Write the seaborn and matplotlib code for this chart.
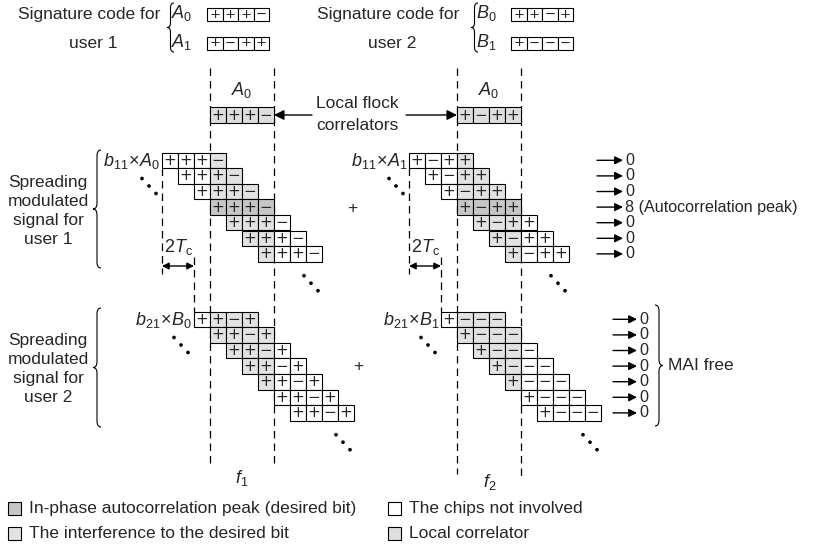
import matplotlib
matplotlib.use("Agg")
import matplotlib.pyplot as plt
from matplotlib.patches import Rectangle, PathPatch
from matplotlib.path import Path
import seaborn as sns
import pandas as pd

# ---------------- data ----------------
sig_A0 = ['+', '+', '+', '\u2212']
sig_A1 = ['+', '\u2212', '+', '+']
sig_B0 = ['+', '+', '\u2212', '+']
sig_B1 = ['+', '\u2212', '\u2212', '\u2212']
local_f1 = ['+', '+', '+', '\u2212']
local_f2 = ['+', '\u2212', '+', '+']
shift_user1 = [-3, -2, -1, 0, 1, 2, 3]
shift_user2 = [-1, 0, 1, 2, 3, 4, 5]
out_user1 = ['0', '0', '0', '8 (Autocorrelation peak)', '0', '0', '0']
out_user2 = ['0', '0', '0', '0', '0', '0', '0']
legend_labels = ['In-phase autocorrelation peak (desired bit)',
                 'The interference to the desired bit',
                 'The chips not involved',
                 'Local correlator']

# ---------------- style ----------------
sns.set_theme(style="white")
plt.rcParams['font.family'] = ['Liberation Sans', 'DejaVu Sans']
plt.rcParams['mathtext.fontset'] = 'custom'
plt.rcParams['mathtext.rm'] = 'Liberation Sans'
plt.rcParams['mathtext.it'] = 'Liberation Sans:italic'
plt.rcParams['mathtext.bf'] = 'Liberation Sans:bold'

DARK = '#c6c6c6'
LIGHT = '#e2e2e2'
LOCAL = '#dedede'
FS = 12.5

fig = plt.figure(figsize=(8.16, 5.44), dpi=100)
ax = fig.add_axes([0, 0, 1, 1])
ax.set_xlim(0, 816)
ax.set_ylim(544, 0)
ax.axis('off')

CW = 16.0
RH = 15.6


def cells(x0, y0, code, colors, cw=CW, rh=RH, fs=10.9):
    for k, s in enumerate(code):
        ax.add_patch(Rectangle((x0 + k * cw, y0), cw, rh, facecolor=colors[k],
                               edgecolor='black', lw=0.8, zorder=3))
        ax.text(x0 + k * cw + cw / 2, y0 + rh / 2, s, ha='center', va='center',
                fontsize=fs, family='DejaVu Sans', zorder=4)


def brace(x, y0, y1, w, tip='left', r=6):
    ym = (y0 + y1) / 2
    if tip == 'left':
        xe, xm, xt = x + w, x + w / 2, x
    else:
        xe, xm, xt = x, x + w / 2, x + w
    verts = [(xe, y0), (xm, y0), (xm, y0 + r), (xm, ym - r), (xm, ym), (xt, ym),
             (xm, ym), (xm, ym + r), (xm, y1 - r), (xm, y1), (xe, y1)]
    codes = [Path.MOVETO, Path.CURVE3, Path.CURVE3, Path.LINETO, Path.CURVE3, Path.CURVE3,
             Path.CURVE3, Path.CURVE3, Path.LINETO, Path.CURVE3, Path.CURVE3]
    ax.add_patch(PathPatch(Path(verts, codes), facecolor='none', edgecolor='black', lw=0.8))


def arrow(x0, y0, x1, y1, style='-|>', ms=13):
    ax.annotate('', xy=(x1, y1), xytext=(x0, y0),
                arrowprops=dict(arrowstyle=style, color='black', lw=1.0,
                                mutation_scale=ms, shrinkA=0, shrinkB=0))


def dashed(x, y0, y1):
    ax.plot([x, x], [y0, y1], color='black', lw=0.9, ls=(0, (6, 4)), zorder=1)


dots = []


def ellipsis(x, y):
    for k in range(3):
        dots.append((x + 7 * k, y + 7.5 * k))


# ---------------- top signature codes ----------------
for cx, bx, name, codes, lbl in [(93, 207, 'user 1', (sig_A0, sig_A1), ('A', 'A')),
                                 (392, 511, 'user 2', (sig_B0, sig_B1), ('B', 'B'))]:
    ax.text(cx - 4, 15, 'Signature code for', ha='center', va='center', fontsize=FS)
    ax.text(cx, 43, name, ha='center', va='center', fontsize=FS)
    brace(bx - 40, 3, 52, 7, r=5)
    for j, code in enumerate(codes):
        yc = 14 + 29 * j
        ax.text(bx - 25, yc - 1, r'$%s_%d$' % (lbl[j], j), ha='center', va='center', fontsize=FS + 0.5)
        cells(bx, yc - 6.5, code, ['white'] * 4, cw=15.5, rh=13, fs=9.5)

# ---------------- blocks ----------------
WIN = [210, 457]
TOP1 = 152.5
TOP2 = 311.5
block_codes = [((sig_A0, sig_A1), shift_user1, TOP1, True),
               ((sig_B0, sig_B1), shift_user2, TOP2, False)]
lab1 = [r'$b_{11}\!\times\! A_0$', r'$b_{11}\!\times\! A_1$']
lab2 = [r'$b_{21}\!\times\! B_0$', r'$b_{21}\!\times\! B_1$']

for side, W in enumerate(WIN):
    # window dashed lines
    dashed(W, 68, 464 + 10 * side)
    dashed(W + 4 * CW, 68, 464 + 12 * side)
    # local correlator
    ax.text(W + 2 * CW, 90, r'$A_0$', ha='center', va='center', fontsize=FS + 0.5)
    cells(W, 107, [local_f1, local_f2][side], [LOCAL] * 4, rh=16)
    for bi, (codes, shifts, top, peak) in enumerate(block_codes):
        code = codes[side]
        for r, s in enumerate(shifts):
            cols = []
            for k in range(4):
                pos = s + k
                if 0 <= pos < 4:
                    cols.append(DARK if (peak and s == 0) else LIGHT)
                else:
                    cols.append('white')
            cells(W + s * CW, top + r * RH, code, cols)
        x_start = W + shifts[0] * CW
        x_end = W + (shifts[-1] + 4) * CW
        lab = (lab1 if bi == 0 else lab2)[side]
        ax.text(x_start - 2, top + RH / 2 + 0.5, lab, ha='right', va='center', fontsize=FS + 0.5)
        ellipsis(x_start - 20, top + 26)
        ellipsis(x_end - 18, top + 7 * RH + 14)
    # 2Tc marker
    xa = W - 3 * CW
    xb = W - CW
    dashed(xa, TOP1 + RH, 274)
    dashed(xb, 257, TOP2)
    arrow(xa, 266, xb, 266, style='<|-|>', ms=10)
    ax.text((xa + xb) / 2, 247, r'$\mathit{2T}_{\mathrm{c}}$', ha='center', va='center', fontsize=FS + 0.5)

# plus signs between blocks
ax.text(352, 209, '+', ha='center', va='center', fontsize=FS)
ax.text(358, 366, '+', ha='center', va='center', fontsize=FS)

# f labels
ax.text(242, 478, r'$f_1$', ha='center', va='center', fontsize=FS + 0.5)
ax.text(490, 482, r'$f_2$', ha='center', va='center', fontsize=FS + 0.5)

# local correlator callout
ax.text(357, 104, 'Local flock', ha='center', va='center', fontsize=FS)
ax.text(357, 125, 'correlators', ha='center', va='center', fontsize=FS)
arrow(312, 115, 274, 115, ms=15)
arrow(406, 115, 457, 115, ms=15)

# left labels and braces
ax.text(48, 211, 'Spreading\nmodulated\nsignal for\nuser 1', ha='center', va='center',
        fontsize=FS, linespacing=1.36)
ax.text(48, 369, 'Spreading\nmodulated\nsignal for\nuser 2', ha='center', va='center',
        fontsize=FS, linespacing=1.36)
brace(93, 150, 268, 8)
brace(93, 308, 427, 8)

# outputs
OFS = 11.6
for r, t in enumerate(out_user1):
    y = TOP1 + (r + 0.5) * RH
    arrow(597, y, 623, y, ms=12)
    ax.text(625, y, t, ha='left', va='center', fontsize=OFS)
for r, t in enumerate(out_user2):
    y = TOP2 + (r + 0.5) * RH
    arrow(613, y, 637, y, ms=12)
    ax.text(639, y, t, ha='left', va='center', fontsize=OFS)
brace(655, 305, 426, 8, tip='right')
ax.text(668, 366, 'MAI free', ha='left', va='center', fontsize=FS)

# ellipsis dots via seaborn
dots_df = pd.DataFrame(dots, columns=['x', 'y'])
sns.scatterplot(data=dots_df, x='x', y='y', ax=ax, s=7, color='black', edgecolor='none', zorder=5)
ax.set_xlim(0, 816)
ax.set_ylim(544, 0)
ax.axis('off')

# legend
leg_colors = [DARK, LIGHT, 'white', LOCAL]
leg_pos = [(8, 508), (8, 533), (388, 508), (388, 533)]
for (lx, ly), c, t in zip(leg_pos, leg_colors, legend_labels):
    ax.add_patch(Rectangle((lx, ly - 6.5), 13, 13, facecolor=c, edgecolor='black', lw=0.8))
    ax.text(lx + 21, ly, t, ha='left', va='center', fontsize=FS)

fig.savefig('out.png', dpi=100)
